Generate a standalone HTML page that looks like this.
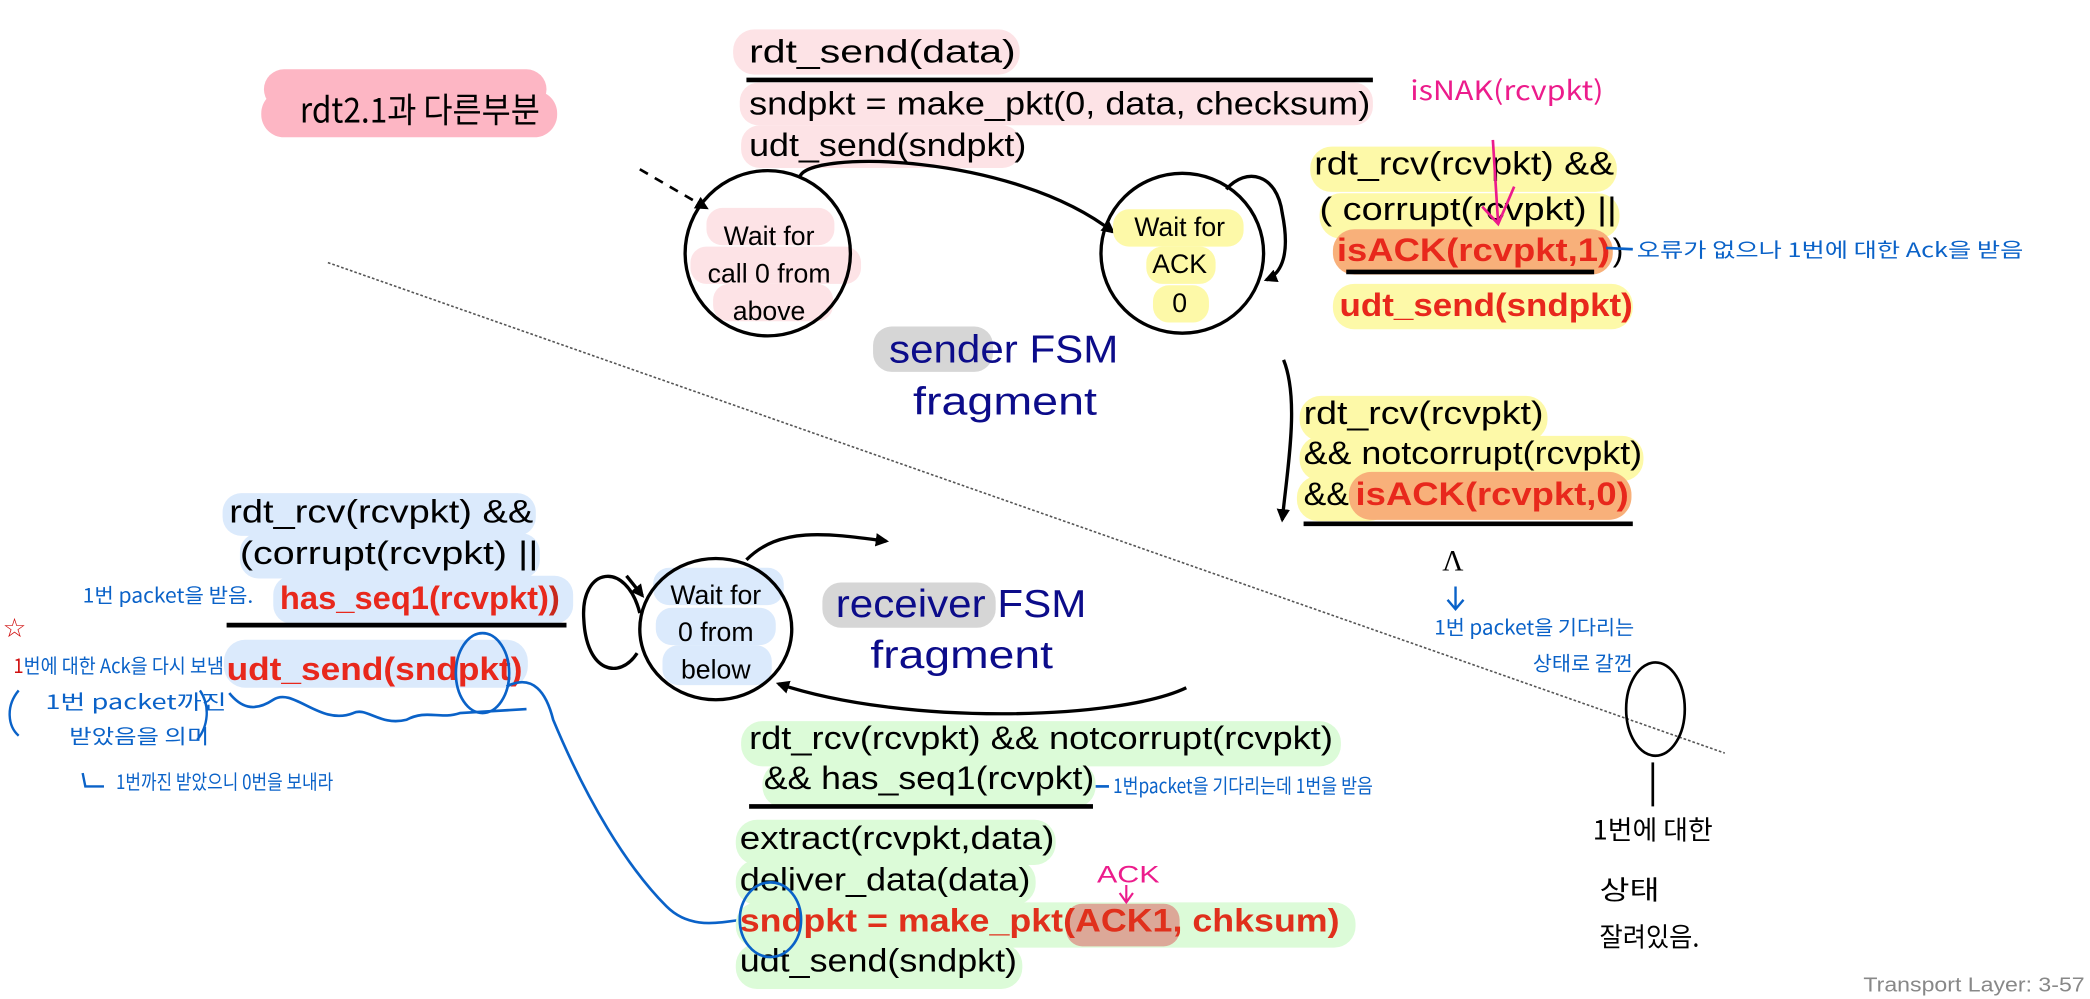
<!DOCTYPE html>
<html><head><meta charset="utf-8"><style>html,body{margin:0;padding:0;background:#fff}svg{display:block}</style></head><body>
<svg width="2090" height="999" viewBox="0 0 1568 749.5" xmlns="http://www.w3.org/2000/svg" font-family="Liberation Sans, Arial, sans-serif">
<defs>
<marker id="ah" markerWidth="10" markerHeight="10" refX="8" refY="5" orient="auto" markerUnits="userSpaceOnUse"><path d="M0,0 L10,5 L0,10 z" fill="#000"/></marker>
</defs>
<rect x="198" y="52" width="212" height="30" rx="15" fill="#fdb6c4"/>
<rect x="196" y="68" width="222" height="35" rx="17" fill="#fdb6c4"/>
<text x="225" y="92" font-size="26" font-family="Noto Sans CJK KR, sans-serif" textLength="180" lengthAdjust="spacingAndGlyphs">rdt2.1과 다른부분</text>

<rect x="550" y="22" width="215" height="34" rx="16" fill="#fde3e6"/>
<rect x="555" y="62" width="475" height="32" rx="14" fill="#fde3e6"/>
<rect x="556" y="94" width="210" height="32" rx="14" fill="#fde3e6"/>
<g font-size="24">
<text x="562" y="47" textLength="200" lengthAdjust="spacingAndGlyphs">rdt_send(data)</text>
<text x="562" y="86" textLength="466" lengthAdjust="spacingAndGlyphs">sndpkt = make_pkt(0, data, checksum)</text>
<text x="562" y="117" textLength="208" lengthAdjust="spacingAndGlyphs">udt_send(sndpkt)</text>
</g>
<line x1="560" y1="60" x2="1030" y2="60" stroke="#000" stroke-width="3.5"/>

<line x1="480" y1="127" x2="530" y2="156" stroke="#000" stroke-width="2" stroke-dasharray="7,6" marker-end="url(#ah)"/>

<rect x="530" y="156" width="96" height="28" rx="12" fill="#fde3e6"/>
<rect x="518" y="185" width="128" height="28" rx="12" fill="#fde3e6"/>
<rect x="535" y="213" width="90" height="28" rx="12" fill="#fde3e6"/>
<ellipse cx="576" cy="190" rx="62" ry="62" fill="none" stroke="#000" stroke-width="2.5"/>
<g font-size="20" text-anchor="middle">
<text x="577" y="184">Wait for</text><text x="577" y="212">call 0 from</text><text x="577" y="240">above</text>
</g>
<path d="M600,133 C605,112 760,115 835,174" fill="none" stroke="#000" stroke-width="2.5" marker-end="url(#ah)"/>

<rect x="835" y="157" width="98" height="28" rx="12" fill="#fdf9a8"/>
<rect x="860" y="185" width="52" height="28" rx="12" fill="#fdf9a8"/>
<rect x="865" y="214" width="42" height="28" rx="12" fill="#fdf9a8"/>
<ellipse cx="887" cy="190" rx="61" ry="60" fill="none" stroke="#000" stroke-width="2.5"/>
<g font-size="20" text-anchor="middle">
<text x="885" y="177">Wait for</text><text x="885" y="205">ACK</text><text x="885" y="234">0</text>
</g>
<path d="M920,142 C935,125 958,130 962,160 C968,190 962,205 950,210" fill="none" stroke="#000" stroke-width="2.5" marker-end="url(#ah)"/>
<path d="M963,270 C975,300 966,350 962,390" fill="none" stroke="#000" stroke-width="2.5" marker-end="url(#ah)"/>

<rect x="983" y="110" width="230" height="34" rx="16" fill="#fdf9a8"/>
<rect x="990" y="145" width="225" height="34" rx="16" fill="#fdf9a8"/>
<rect x="1000" y="172" width="210" height="34" rx="16" fill="#f8b07a"/>
<rect x="1000" y="213" width="225" height="34" rx="16" fill="#fdf9a8"/>
<g font-size="24">
<text x="986" y="131" textLength="225" lengthAdjust="spacingAndGlyphs">rdt_rcv(rcvpkt) &amp;&amp;</text>
<text x="990" y="165" textLength="223" lengthAdjust="spacingAndGlyphs">( corrupt(rcvpkt) ||</text>
<text x="1003" y="196" fill="#e8281c" font-weight="bold" textLength="205" lengthAdjust="spacingAndGlyphs">isACK(rcvpkt,1)</text>
<text x="1005" y="237" fill="#e8281c" font-weight="bold" textLength="220" lengthAdjust="spacingAndGlyphs">udt_send(sndpkt)</text>
<text x="1210" y="196">)</text>
</g>
<line x1="1010" y1="204" x2="1196" y2="204" stroke="#000" stroke-width="3.5"/>
<text x="1058" y="75" font-size="20" fill="#ec1c8c" font-family="Noto Sans CJK KR, sans-serif" textLength="145" lengthAdjust="spacingAndGlyphs">isNAK(rcvpkt)</text>
<path d="M1120,105 L1124,168 M1112,155 L1124,168 L1136,140" fill="none" stroke="#ec1c8c" stroke-width="2"/>
<path d="M1205,186 L1225,187" stroke="#0a62c8" stroke-width="2"/>
<text x="1228" y="193" font-size="15" fill="#0a62c8" font-family="Noto Sans CJK KR, sans-serif" textLength="290" lengthAdjust="spacingAndGlyphs">오류가 없으나 1번에 대한 Ack을 받음</text>

<rect x="975" y="297" width="186" height="34" rx="16" fill="#fdf9a8"/>
<rect x="975" y="327" width="258" height="34" rx="16" fill="#fdf9a8"/>
<rect x="973" y="357" width="70" height="34" rx="16" fill="#fdf9a8"/>
<rect x="1012" y="354" width="212" height="36" rx="17" fill="#f8b07a"/>
<g font-size="24">
<text x="978" y="318" textLength="180" lengthAdjust="spacingAndGlyphs">rdt_rcv(rcvpkt)</text>
<text x="978" y="348" textLength="254" lengthAdjust="spacingAndGlyphs">&amp;&amp; notcorrupt(rcvpkt)</text>
<text x="978" y="379" textLength="34" lengthAdjust="spacingAndGlyphs">&amp;&amp;</text>
<text x="1017" y="379" fill="#e8281c" font-weight="bold" textLength="205" lengthAdjust="spacingAndGlyphs">isACK(rcvpkt,0)</text>
</g>
<line x1="978" y1="393" x2="1225" y2="393" stroke="#000" stroke-width="3.5"/>
<text x="1090" y="428" font-size="22" font-family="Liberation Serif, serif" text-anchor="middle">Λ</text>
<path d="M1092,440 L1092,456 M1086,450 L1092,457 L1098,450" fill="none" stroke="#0a62c8" stroke-width="1.8"/>
<text x="1076" y="476" font-size="15" fill="#0a62c8" font-family="Noto Sans CJK KR, sans-serif" textLength="150" lengthAdjust="spacingAndGlyphs">1번 packet을 기다리는</text>
<text x="1150" y="503" font-size="15" fill="#0a62c8" font-family="Noto Sans CJK KR, sans-serif" textLength="75" lengthAdjust="spacingAndGlyphs">상태로 갈껀</text>

<line x1="246" y1="197" x2="1294" y2="565" stroke="#555" stroke-width="1.2" stroke-dasharray="2,1.5"/>

<rect x="655" y="245" width="90" height="34" rx="14" fill="#d6d6d6"/>
<text x="667" y="272" font-size="29" fill="#0c0c8a" textLength="172" lengthAdjust="spacingAndGlyphs">sender FSM</text>
<text x="685" y="311" font-size="29" fill="#0c0c8a" textLength="138" lengthAdjust="spacingAndGlyphs">fragment</text>

<rect x="167" y="370" width="235" height="32" rx="14" fill="#dbeafc"/>
<rect x="180" y="400" width="225" height="34" rx="14" fill="#dbeafc"/>
<rect x="205" y="432" width="225" height="36" rx="14" fill="#dbeafc"/>
<rect x="168" y="480" width="228" height="36" rx="16" fill="#dbeafc"/>
<g font-size="24">
<text x="172" y="392" textLength="228" lengthAdjust="spacingAndGlyphs">rdt_rcv(rcvpkt) &amp;&amp;</text>
<text x="180" y="423" textLength="224" lengthAdjust="spacingAndGlyphs">(corrupt(rcvpkt) ||</text>
<text x="210" y="457" font-weight="bold" textLength="210" lengthAdjust="spacingAndGlyphs"><tspan fill="#e8281c">has_seq1(rcvpkt)</tspan><tspan fill="#c8281c">)</tspan></text>
<text x="170" y="510" fill="#e8281c" font-weight="bold" textLength="222" lengthAdjust="spacingAndGlyphs">udt_send(sndpkt)</text>
</g>
<line x1="170" y1="469" x2="425" y2="469" stroke="#000" stroke-width="3.5"/>
<g font-family="Noto Sans CJK KR, sans-serif" fill="#0a62c8" font-size="15">
<text x="62" y="452" textLength="128" lengthAdjust="spacingAndGlyphs">1번 packet을 받음.</text>
<text x="10" y="505" textLength="158" lengthAdjust="spacingAndGlyphs"><tspan fill="#d01010">1</tspan>번에 대한 Ack을 다시 보냄</text>
<text x="34" y="532" textLength="136" lengthAdjust="spacingAndGlyphs">1번 packet까진</text>
<text x="52" y="558" textLength="105" lengthAdjust="spacingAndGlyphs">받았음을 의미</text>
<text x="87" y="592" textLength="163" lengthAdjust="spacingAndGlyphs">1번까진 받았으니 0번을 보내라</text>
</g>
<text x="2" y="478" font-size="20" fill="#d01010">☆</text>
<path d="M14,518 C4,530 6,545 14,552 M150,518 C158,530 156,545 148,555 M62,580 L64,590 L78,590" fill="none" stroke="#0a62c8" stroke-width="1.8"/>
<path d="M172,520 C180,530 190,535 205,525 C220,515 240,545 265,535 C275,530 285,545 305,540 C320,532 330,540 345,535 L395,532" fill="none" stroke="#0a62c8" stroke-width="2"/>
<ellipse cx="362" cy="505" rx="20" ry="30" fill="none" stroke="#0a62c8" stroke-width="2"/>
<path d="M380,515 C400,505 410,520 415,540 C440,600 470,650 500,680 C520,700 545,690 560,690" fill="none" stroke="#0a62c8" stroke-width="2"/>

<rect x="490" y="426" width="98" height="28" rx="12" fill="#dbeafc"/>
<rect x="492" y="456" width="90" height="28" rx="12" fill="#dbeafc"/>
<rect x="497" y="484" width="82" height="30" rx="12" fill="#dbeafc"/>
<ellipse cx="537" cy="472" rx="57" ry="53" fill="none" stroke="#000" stroke-width="2.5"/>
<g font-size="20" text-anchor="middle">
<text x="537" y="453">Wait for</text><text x="537" y="481">0 from</text><text x="537" y="509">below</text>
</g>
<path d="M480,460 C470,420 435,425 438,465 C440,505 465,510 478,490" fill="none" stroke="#000" stroke-width="2.5"/>
<path d="M470,432 L482,447" fill="none" stroke="#000" stroke-width="2.5" marker-end="url(#ah)"/>
<path d="M560,420 C585,395 620,400 665,406" fill="none" stroke="#000" stroke-width="2.5" marker-end="url(#ah)"/>
<path d="M890,516 C840,540 680,545 584,513" fill="none" stroke="#000" stroke-width="2.5" marker-end="url(#ah)"/>

<rect x="617" y="437" width="130" height="34" rx="14" fill="#d6d6d6"/>
<text x="627" y="463" font-size="29" fill="#0c0c8a" textLength="188" lengthAdjust="spacingAndGlyphs">receiver FSM</text>
<text x="653" y="501" font-size="29" fill="#0c0c8a" textLength="137" lengthAdjust="spacingAndGlyphs">fragment</text>

<rect x="556" y="541" width="450" height="34" rx="16" fill="#dcfbd8"/>
<rect x="572" y="572" width="250" height="34" rx="16" fill="#dcfbd8"/>
<rect x="552" y="615" width="240" height="34" rx="16" fill="#dcfbd8"/>
<rect x="552" y="645" width="225" height="34" rx="16" fill="#dcfbd8"/>
<rect x="552" y="677" width="465" height="34" rx="16" fill="#dcfbd8"/>
<rect x="800" y="678" width="85" height="32" rx="12" fill="#dca898"/>
<rect x="552" y="708" width="215" height="34" rx="16" fill="#dcfbd8"/>
<g font-size="24">
<text x="562" y="562" textLength="438" lengthAdjust="spacingAndGlyphs">rdt_rcv(rcvpkt) &amp;&amp; notcorrupt(rcvpkt)</text>
<text x="573" y="592" textLength="248" lengthAdjust="spacingAndGlyphs">&amp;&amp; has_seq1(rcvpkt)</text>
<text x="555" y="637" textLength="236" lengthAdjust="spacingAndGlyphs">extract(rcvpkt,data)</text>
<text x="555" y="668" textLength="218" lengthAdjust="spacingAndGlyphs">deliver_data(data)</text>
<text x="555" y="699" fill="#e0301c" font-weight="bold" textLength="450" lengthAdjust="spacingAndGlyphs">sndpkt = make_pkt(ACK1, chksum)</text>
<text x="555" y="729" textLength="208" lengthAdjust="spacingAndGlyphs">udt_send(sndpkt)</text>
</g>
<line x1="562" y1="605" x2="820" y2="605" stroke="#000" stroke-width="3.5"/>
<ellipse cx="578" cy="690" rx="23" ry="28" fill="none" stroke="#0a62c8" stroke-width="2"/>
<path d="M822,590 L832,590" stroke="#0a62c8" stroke-width="2"/>
<text x="835" y="595" font-size="15" fill="#0a62c8" font-family="Noto Sans CJK KR, sans-serif" textLength="195" lengthAdjust="spacingAndGlyphs">1번packet을 기다리는데 1번을 받음</text>
<text x="823" y="662" font-size="18" fill="#ec1c8c" textLength="47" lengthAdjust="spacingAndGlyphs">ACK</text>
<path d="M845,664 L845,676 M840,670 L845,677 L850,670" fill="none" stroke="#ec1c8c" stroke-width="1.6"/>

<ellipse cx="1242" cy="532" rx="22" ry="35" fill="none" stroke="#000" stroke-width="2"/>
<line x1="1240" y1="572" x2="1240" y2="605" stroke="#000" stroke-width="2"/>
<g font-family="Noto Sans CJK KR, sans-serif" font-size="20">
<text x="1195" y="630" textLength="90" lengthAdjust="spacingAndGlyphs">1번에 대한</text>
<text x="1200" y="675" textLength="45" lengthAdjust="spacingAndGlyphs">상태</text>
<text x="1200" y="710" textLength="75" lengthAdjust="spacingAndGlyphs">잘려있음.</text>
</g>
<text x="1398" y="744" font-size="15" fill="#888" textLength="166" lengthAdjust="spacingAndGlyphs">Transport Layer: 3-57</text>
</svg>
</body></html>
